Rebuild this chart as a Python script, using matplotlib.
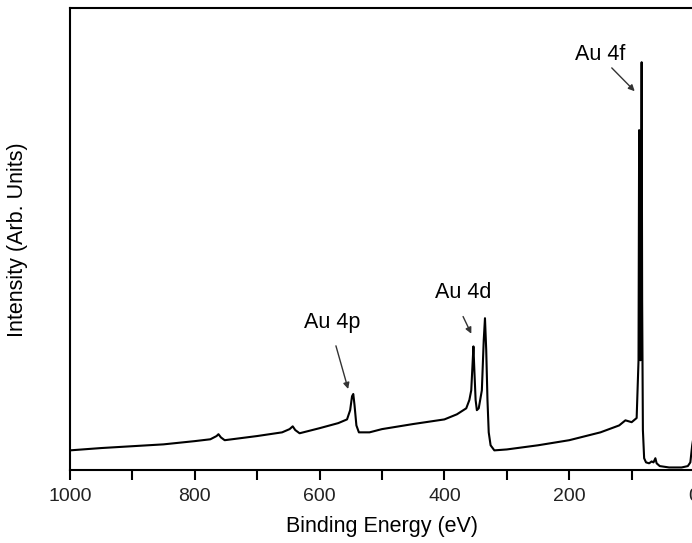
import matplotlib.pyplot as plt
from matplotlib.ticker import MultipleLocator

# XPS survey spectrum
energy = [1000, 950, 900, 850, 800, 775, 765, 762, 758, 752, 700, 660, 648, 643, 639, 632,
          600, 570, 556, 551, 548, 546, 544, 541, 537, 520, 500, 450, 400, 380, 365, 360,
          357, 355, 353.5, 352, 350, 348, 345, 340, 337, 335, 333, 331, 329, 326, 320, 300,
          250, 200, 150, 120, 110, 100, 92, 89, 88, 87.2, 86, 85, 84, 83.2, 82, 80, 77, 72,
          68, 65, 62, 60, 55, 40, 20, 10, 6, 3, 1]
intensity = [4.3, 4.8, 5.2, 5.6, 6.3, 6.7, 7.4, 7.8, 7.1, 6.5, 7.4, 8.2, 8.9, 9.5, 8.7, 8.0,
             9.1, 10.2, 11.0, 13.0, 16.0, 16.5, 14.1, 9.7, 8.2, 8.2, 8.9, 10.0, 11.0, 12.1, 13.4, 15.2,
             17.3, 22.7, 26.8, 21.6, 15.2, 13.0, 13.4, 17.3, 28.1, 32.9, 26.0, 15.2, 8.2, 5.4, 4.3, 4.5,
             5.4, 6.5, 8.2, 9.7, 10.8, 10.4, 11.3, 23.8, 73.6, 50.0, 23.8, 43.3, 88.3, 36.8, 8.7, 2.6, 1.7, 1.5,
             1.9, 1.7, 2.6, 1.5, 0.9, 0.6, 0.6, 0.9, 1.7, 5.4, 7.1]

peak_labels = ['Au 4p', 'Au 4d', 'Au 4f']
label_pos = [(580, 32), (370, 38.5), (150, 90)]
arrow_tip = [(553, 17), (355, 29), (92, 81.6)]
arrow_tail = [(575, 27.5), (372, 33.8), (135, 87.5)]

font = ['Liberation Sans', 'DejaVu Sans']

fig = plt.figure(figsize=(6.92, 5.43), dpi=100)
ax = fig.add_axes([0.101, 0.134, 0.902, 0.851])

ax.plot(energy, intensity, color='black', lw=1.5)

for lab, pos, tip, tail in zip(peak_labels, label_pos, arrow_tip, arrow_tail):
    ax.text(pos[0], pos[1], lab, ha='center', va='center', fontsize=15.5, family=font)
    ax.annotate('', xy=tip, xytext=tail,
                arrowprops=dict(arrowstyle='-|>', color='#333333', lw=1, mutation_scale=9))

ax.set_xlim(1000, 0)
ax.set_ylim(0, 100)
ax.set_yticks([])
ax.xaxis.set_major_locator(MultipleLocator(200))
ax.xaxis.set_minor_locator(MultipleLocator(100))
ax.tick_params(axis='x', which='both', direction='out', length=7, width=1.5, pad=6,
               labelsize=14, top=False)
for t in ax.get_xticklabels():
    t.set_family(font)
    t.set_color('#222222')
for s in ax.spines.values():
    s.set_linewidth(1.5)

ax.set_xlabel('Binding Energy (eV)', fontsize=15.5, family=font, labelpad=8)
ax.set_ylabel('Intensity (Arb. Units)', fontsize=15.5, family=font, labelpad=30)

plt.savefig('out.png', dpi=100)
